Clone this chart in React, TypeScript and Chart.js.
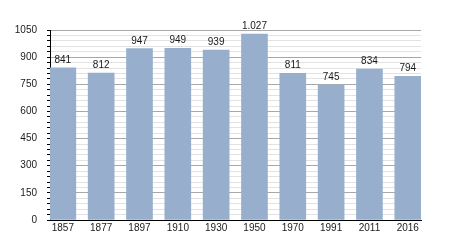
import React, { useEffect, useRef } from "react";
import { Chart, registerables } from "chart.js";

Chart.register(...registerables);

const years = ["1857", "1877", "1897", "1910", "1930", "1950", "1970", "1991", "2011", "2016"];
const population = [841, 812, 947, 949, 939, 1027, 811, 745, 834, 794];
const yMax = 1050;
const yMinorStep = 30;
const yMajorStep = 150;

const FONT = "'Liberation Sans', Arial, sans-serif";

function formatThousands(v: number): string {
  return String(v).replace(/\B(?=(\d{3})+(?!\d))/g, ".");
}

const valueLabels = {
  id: "valueLabels",
  afterDatasetsDraw(chart: any) {
    const ctx = chart.ctx;
    const meta = chart.getDatasetMeta(0);
    ctx.save();
    ctx.font = `10px ${FONT}`;
    ctx.fillStyle = "#1a1a1a";
    ctx.textAlign = "center";
    ctx.textBaseline = "alphabetic";
    meta.data.forEach((el: any, i: number) => {
      ctx.fillText(formatThousands(population[i]), el.x, el.y - 5);
    });
    ctx.restore();
  },
};

export default function App() {
  const ref = useRef<HTMLCanvasElement | null>(null);

  useEffect(() => {
    if (!ref.current) return;
    const chart = new Chart(ref.current, {
      type: "bar",
      data: {
        datasets: [
          {
            data: population.map((v, i) => ({ x: i, y: v })),
            backgroundColor: "#97afcc",
            borderWidth: 0,
            barThickness: 26,
          },
        ],
      },
      options: {
        animation: false,
        responsive: false,
        layout: { padding: { top: 30, right: 29, left: 0, bottom: 0 } },
        plugins: { legend: { display: false }, tooltip: { enabled: false } },
        scales: {
          x: {
            type: "linear",
            offset: false,
            min: -0.335,
            max: 9.345,
            grid: { display: false, drawTicks: false },
            border: { display: true, color: "#000", width: 1 },
            ticks: {
              stepSize: 1,
              includeBounds: false,
              autoSkip: false,
              maxRotation: 0,
              padding: 2,
              color: "#1a1a1a",
              font: { family: FONT, size: 10 },
              callback: (v: any) => years[Math.round(Number(v))] ?? "",
            },
            afterFit: (scale: any) => {
              scale.height = 30;
            },
          },
          y: {
            min: 0,
            max: yMax,
            grid: {
              color: (c: any) =>
                c.tick && c.tick.value % yMajorStep === 0 ? "#a8a8a8" : "#e2e2e2",
              tickColor: "#000",
              tickLength: 3,
            },
            border: { display: true, color: "#000", width: 1 },
            ticks: {
              stepSize: yMinorStep,
              autoSkip: false,
              padding: 10,
              color: "#1a1a1a",
              font: { family: FONT, size: 10 },
              callback: (v: any) => (Number(v) % yMajorStep === 0 ? String(v) : ""),
            },
            afterFit: (scale: any) => {
              scale.width = 50;
            },
          },
        },
      },
      plugins: [valueLabels],
    });
    return () => chart.destroy();
  }, []);

  return (
    <div style={{ position: "absolute", left: 0, top: 0, width: 450, height: 250, background: "#fff" }}>
      <canvas ref={ref} width={450} height={250} style={{ display: "block" }} />
    </div>
  );
}
